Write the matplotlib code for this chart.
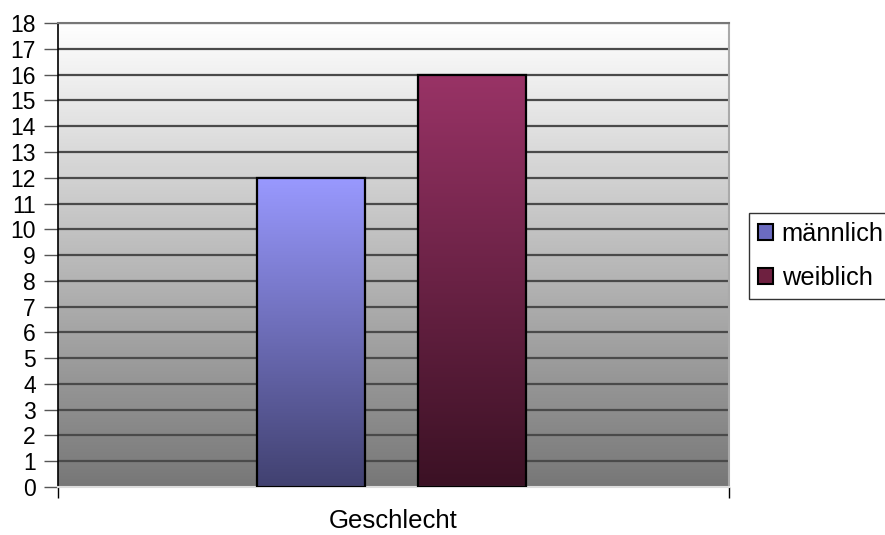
import numpy as np
import matplotlib
matplotlib.use('Agg')
import matplotlib.pyplot as plt
from matplotlib.colors import LinearSegmentedColormap
from matplotlib.patches import Rectangle

plt.rcParams['font.family'] = ['Liberation Sans', 'DejaVu Sans']

category = 'Geschlecht'
series = ['männlich', 'weiblich']
values = [12, 16]
y_ticks = list(range(0, 19))

# gradient stops per series: (top colour, bottom colour)
bar_grad = [('#9999ff', '#414170'), ('#993366', '#3b1124')]
legend_col = ['#6b6bc0', '#6e2040']

fig = plt.figure(figsize=(8.85, 5.35), dpi=100)
ax = fig.add_axes([0.0655, 0.0897, 0.758, 0.867])
ax.set_xlim(0, 1)
ax.set_ylim(0, 18)

# background: white at the top fading to gray at the bottom
bg = LinearSegmentedColormap.from_list('bg', ['#777777', '#ffffff'])
ax.imshow(np.linspace(0, 1, 256).reshape(-1, 1), cmap=bg, aspect='auto',
          extent=(0, 1, 0, 18), origin='lower', zorder=0)

for y in y_ticks[1:]:
    ax.axhline(y, color='#4a4a4a', lw=1.6, zorder=1)

offsets = [-0.12, 0.12]
width = 0.16
center = 0.497
for off, val, (top, bot) in zip(offsets, values, bar_grad):
    x0 = center + off - width / 2
    cm = LinearSegmentedColormap.from_list('g', [bot, top])
    im = ax.imshow(np.linspace(0, 1, 256).reshape(-1, 1), cmap=cm, aspect='auto',
                   extent=(x0, x0 + width, 0, val), origin='lower', zorder=2)
    rect = Rectangle((x0, 0), width, val, facecolor='none', edgecolor='black',
                     lw=1.6, zorder=3)
    ax.add_patch(rect)
    im.set_clip_path(rect)

ax.set_xlim(0, 1)
ax.set_ylim(0, 18)
ax.set_yticks(y_ticks)
ax.set_yticklabels([str(t) for t in y_ticks], fontsize=16.5)
ax.set_xticks([0, 1])
ax.set_xticklabels(['', ''])
ax.tick_params(axis='y', length=10, width=1, direction='out', color='#555555', pad=6)
ax.tick_params(axis='x', length=8, width=1, direction='out', color='black')
ax.text(0.5, -0.073, category, transform=ax.transAxes, ha='center', va='center',
        fontsize=18.5)

ax.spines['left'].set_color('black')
ax.spines['left'].set_linewidth(1.2)
ax.spines['bottom'].set_color('#dddddd')
ax.spines['bottom'].set_linewidth(1.5)
ax.spines['right'].set_color('#aaaaaa')
ax.spines['right'].set_linewidth(1.5)
ax.spines['top'].set_color('#777777')
ax.spines['top'].set_linewidth(1.5)

handles = [Rectangle((0, 0), 1, 1, facecolor=c, edgecolor='black', lw=1.5)
           for c in legend_col]
leg = fig.legend(handles, series, loc='upper left', bbox_to_anchor=(0.846, 0.602),
                 fontsize=18.3, frameon=True, fancybox=False, handlelength=0.6,
                 handleheight=0.6, handletextpad=0.35, borderpad=0.35,
                 labelspacing=0.8, borderaxespad=0)
leg.get_frame().set_edgecolor('black')
leg.get_frame().set_linewidth(1.0)

fig.savefig('out.png', dpi=100)
